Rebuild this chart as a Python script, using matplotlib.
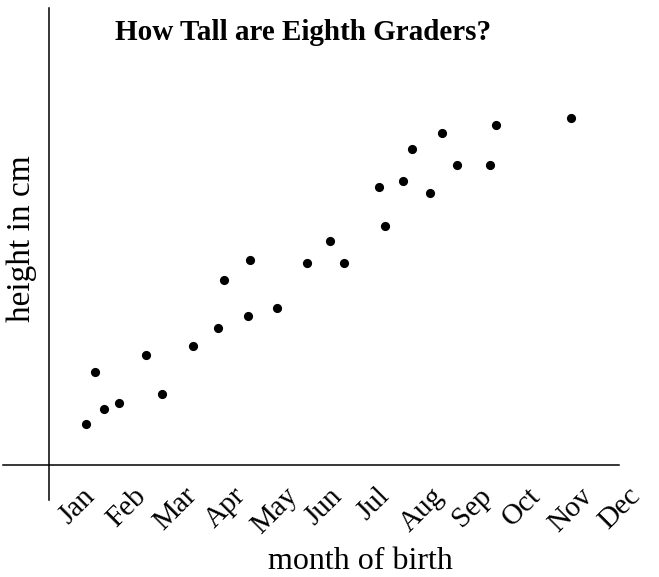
import numpy as np
import matplotlib
matplotlib.use("Agg")
import matplotlib.pyplot as plt

# ---
# Data (birth month as fractional month, height in cm)

months = ["Jan", "Feb", "Mar", "Apr", "May", "Jun",
          "Jul", "Aug", "Sep", "Oct", "Nov", "Dec"]

birth_month = [1.18, 1.36, 1.55, 1.85, 2.39, 2.72, 3.35, 3.85, 3.97, 4.46,
               4.51, 5.06, 5.67, 6.12, 6.40, 7.11, 7.24, 7.61, 7.79, 8.16,
               8.40, 8.70, 9.37, 9.49, 11.00]
height_cm = [143.6, 148.1, 144.9, 145.4, 149.6, 146.2, 150.4, 152.0, 156.2, 153.0,
             157.9, 153.7, 157.7, 159.6, 157.7, 164.3, 160.9, 164.9, 167.7, 163.8,
             169.1, 166.3, 166.3, 169.8, 170.4]

# ---

plt.rcParams["font.family"] = ["Liberation Serif", "DejaVu Serif"]

W, H = 659, 577
fig = plt.figure(figsize=(W / 100, H / 100), dpi=100)
ax = fig.add_axes([49 / W, (H - 465) / H, (620 - 49) / W, (465 - 8) / H])

ax.plot(birth_month, height_cm, "o", color="black", ms=6.6, mec="none")

ax.set_xlim(0.434, 11.98)
ax.set_ylim(140, 180)

# spines cross each other like a hand-drawn coordinate cross
for side in ["top", "right"]:
    ax.spines[side].set_visible(False)
ax.spines["left"].set_bounds(136.9, 180)
ax.spines["bottom"].set_bounds(-0.5, 11.98)
for side in ["left", "bottom"]:
    ax.spines[side].set_linewidth(1.1)

ax.set_xticks(range(1, 13))
ax.set_xticklabels(months, rotation=45, ha="center", fontsize=21)
ax.tick_params(axis="x", length=0, pad=13)
ax.set_yticks([])

ax.set_xlabel("month of birth", fontsize=23)
ax.xaxis.set_label_coords((360 - 49) / 571, -0.18)
ax.set_ylabel("height in cm", fontsize=24)
ax.yaxis.set_label_coords((37 - 49) / 571, 0.495)

fig.text(303 / W, 1 - 33 / H, "How Tall are Eighth Graders?",
         ha="center", va="center", fontsize=21, fontweight="bold")

fig.savefig("out.png", dpi=100)
